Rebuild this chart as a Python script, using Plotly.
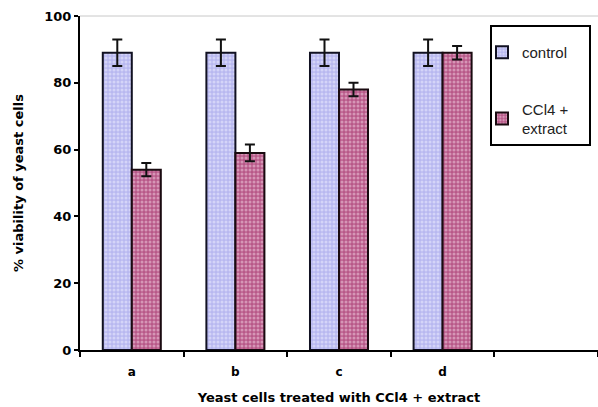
import plotly.graph_objects as go

categories = ["a", "b", "c", "d", " "]
control = [89, 89, 89, 89, None]
control_err = [4, 4, 4, 4, 0]
ccl4 = [54, 59, 78, 89, None]
ccl4_err = [2, 2.5, 2, 2, 0]
y_ticks = [0, 20, 40, 60, 80, 100]

W, H = 598, 407
L, R, T, B = 80, 0, 16, 57

fig = go.Figure()
fig.add_trace(go.Bar(
    x=categories, y=control, name="control", legendgroup="g1",
    marker=dict(color="#c4c4f2", line=dict(color="#111122", width=2),
                pattern=dict(shape=".", bgcolor="#b8b8f0", fgcolor="#f0f0ff", size=4, solidity=0.45)),
    error_y=dict(type="data", array=control_err, color="#111111", thickness=2, width=5),
))
fig.add_trace(go.Bar(
    x=categories, y=ccl4, name="CCl4 +<br>extract", legendgroup="g2",
    marker=dict(color="#c07098", line=dict(color="#1a0a10", width=2),
                pattern=dict(shape=".", bgcolor="#b85888", fgcolor="#f4d4e4", size=4, solidity=0.45)),
    error_y=dict(type="data", array=ccl4_err, color="#111111", thickness=2, width=5),
))

# plot top border (gray)
fig.add_shape(type="line", xref="paper", yref="paper", x0=0, x1=1, y0=1, y1=1,
              line=dict(color="#c8c8c8", width=1))
# legend box
pw = W - L - R
ph = H - T - B
fig.add_shape(type="rect", xref="paper", yref="paper",
              x0=(491 - L) / pw, x1=(590 - L) / pw,
              y0=(H - B - 145) / ph, y1=(H - B - 26) / ph,
              line=dict(color="#000000", width=2), fillcolor="rgba(0,0,0,0)")

fig.update_layout(
    width=W, height=H,
    margin=dict(l=L, r=R, t=T, b=B, pad=0),
    paper_bgcolor="white", plot_bgcolor="white",
    barmode="group", bargap=0.44, bargroupgap=0,
    showlegend=True,
    legend=dict(x=(482 - L) / pw, y=(H - B - 36) / ph, xanchor="left", yanchor="top",
                bgcolor="rgba(0,0,0,0)", borderwidth=0,
                font=dict(family="Liberation Sans, Arial", size=15, color="#222222"),
                traceorder="grouped", tracegroupgap=34, itemwidth=30),
    xaxis=dict(
        type="category", range=[-0.5, 4.5], tickson="boundaries",
        ticks="outside", ticklen=5, tickwidth=2, tickcolor="black",
        showline=True, linecolor="black", linewidth=2,
        showgrid=False, ticklabelstandoff=10,
        tickfont=dict(family="DejaVu Sans", size=12, color="black", weight="bold"),
        title=dict(text="Yeast cells treated with CCl4 + extract", standoff=14,
                   font=dict(family="DejaVu Sans", size=13, color="black", weight="bold")),
    ),
    yaxis=dict(
        range=[0, 100], tickvals=y_ticks,
        ticks="outside", ticklen=4, tickwidth=2, tickcolor="black",
        showline=True, linecolor="black", linewidth=2,
        showgrid=False, zeroline=False,
        tickfont=dict(family="DejaVu Sans", size=13, color="black", weight="bold"),
        title=dict(text="% viability of yeast cells", standoff=18,
                   font=dict(family="DejaVu Sans", size=13, color="black", weight="bold")),
    ),
)

fig.write_html("out.html")
